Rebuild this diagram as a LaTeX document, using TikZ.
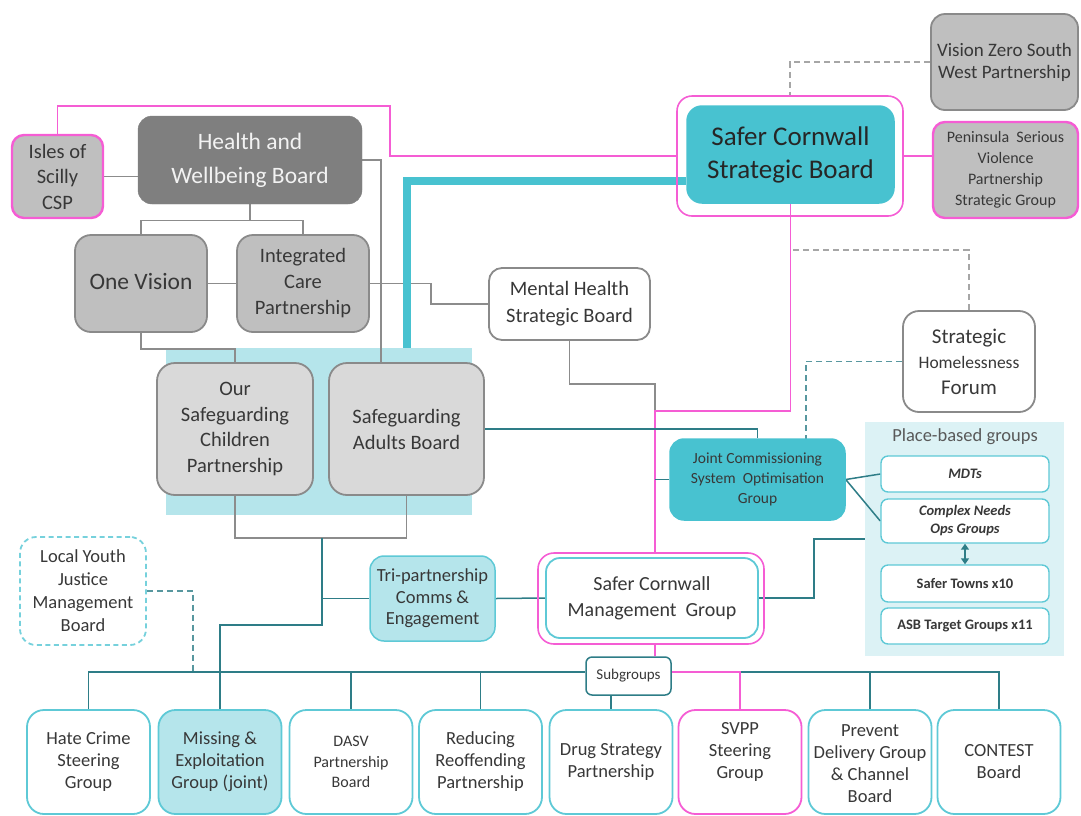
\documentclass[tikz,border=0pt]{standalone}
\usepackage{fontspec}
\setmainfont{Carlito}
\usetikzlibrary{arrows.meta,backgrounds,calc}
\definecolor{pk}{HTML}{F55DD4}
\definecolor{cyf}{HTML}{48C2D0}
\definecolor{lcy}{HTML}{B5E5EB}
\definecolor{panelc}{HTML}{DCF2F5}
\definecolor{tlc}{HTML}{2E7D87}
\definecolor{cyb}{HTML}{5EC9D6}
\definecolor{dgray}{HTML}{7F7F7F}
\definecolor{mgray}{HTML}{BFBFBF}
\definecolor{lgray}{HTML}{D9D9D9}
\definecolor{bgray}{HTML}{8A8A8A}
\definecolor{lgr}{HTML}{8C8C8C}
\definecolor{dgr}{HTML}{A6A6A6}
\definecolor{txt}{HTML}{383838}
\newcommand{\fz}[2]{\fontsize{#1}{#2}\selectfont}
\begin{document}
\begin{tikzpicture}[x=1pt,y=-1pt,
  every node/.style={inner sep=0pt, align=center, text=txt},
  dgbox/.style={fill=dgray, draw=dgray, rounded corners=14pt, text=white!95!black},
  gbox/.style={fill=mgray, draw=bgray, line width=1.8pt, rounded corners=16pt},
  lgbox/.style={fill=lgray, draw=bgray, line width=1.8pt, rounded corners=18pt},
  wbox/.style={fill=white, draw=bgray, line width=1.8pt, rounded corners=13pt},
  pkbox/.style={draw=pk, line width=1.6pt, rounded corners=15pt},
  pkgbox/.style={fill=mgray, draw=pk, line width=2.4pt, rounded corners=12pt},
  cbox/.style={fill=white, draw=cyb, line width=1.8pt, rounded corners=17pt},
  cfbox/.style={fill=cyf, draw=cyf, line width=1.5pt, rounded corners=15pt},
  lcbox/.style={fill=lcy, draw=cyb, line width=1.5pt, rounded corners=14pt},
  pbox/.style={fill=white, draw=cyb, line width=1.4pt, rounded corners=7pt},
  gl/.style={draw=lgr, line width=1.4pt},
  tl/.style={draw=tlc, line width=1.5pt},
  pkl/.style={draw=pk, line width=1.5pt},
  gdash/.style={draw=dgr, line width=1.8pt, dash pattern=on 6pt off 4pt},
  tdash/.style={draw=tlc!80!white, line width=1.8pt, dash pattern=on 6pt off 4pt},
  thickc/.style={draw=cyf, line width=8pt},
  bot/.style={cbox, minimum width=123, minimum height=104, font=\fz{18.5}{22}}
]
\useasboundingbox (0,0) rectangle (1081,815);

% ---------- nodes ----------
\node[pkgbox, minimum width=91, minimum height=83, font=\fz{20.5}{25.5}] (Isles) at (57.5,176.5) {Isles of\\Scilly\\CSP};
\node[dgbox, minimum width=224, minimum height=88, font=\fz{23.5}{34}] (HWB) at (250,160) {Health and\\Wellbeing Board};
\node[gbox, minimum width=132, minimum height=97, font=\fz{23.5}{28}] (OneV) at (141,283.5) {\raisebox{4pt}{One Vision}};
\node[gbox, minimum width=132, minimum height=97, font=\fz{20.5}{26}] (ICP) at (303,283.5) {Integrated\\Care\\Partnership};
\node[wbox, minimum width=161, minimum height=72, font=\fz{20.5}{27}] (MHSB) at (569.5,304) {Mental Health\\Strategic Board};
\node[gbox, minimum width=147, minimum height=96, rounded corners=14pt, font=\fz{19}{22}] (VZ) at (1004.5,62) {Vision Zero South\\West Partnership};
\node[pkbox, minimum width=226, minimum height=120] (SCSBout) at (790,156) {};
\node[cfbox, minimum width=207, minimum height=97, text=black!85, font=\fz{27}{33}] (SCSBin) at (790.5,154.5) {Safer Cornwall\\Strategic Board};
\node[pkgbox, minimum width=145, minimum height=96, font=\fz{16}{21}] (Pen) at (1005.5,170) {Peninsula\ \ Serious\\Violence\\Partnership\\Strategic Group};
\node[wbox, minimum width=132, minimum height=101, rounded corners=16pt, font=\fz{21}{25.5}] (SHF) at (969,361.5) {Strategic\\{\fontsize{17.5}{25.5}\selectfont Homelessness}\\Forum};
\node[lgbox, minimum width=156, minimum height=132, font=\fz{20.5}{25.5}] (OSCP) at (235,429) {Our\\Safeguarding\\Children\\Partnership};
\node[lgbox, minimum width=155, minimum height=132, font=\fz{20.5}{26}] (SAB) at (406.5,429) {Safeguarding\\Adults Board};
\node[cfbox, minimum width=175, minimum height=81, rounded corners=14pt, font=\fz{15.5}{20}] (JCSOG) at (757.5,479.5) {Joint Commissioning\\System\ \ Optimisation\\Group};
\node[pbox, minimum width=168, minimum height=36, font=\bfseries\itshape\fz{14.5}{18}] (MDTs) at (965,474) {MDTs};
\node[pbox, minimum width=168, minimum height=44, font=\bfseries\itshape\fz{14.5}{18}] (Complex) at (965,521) {Complex Needs\\Ops Groups};
\node[pbox, minimum width=168, minimum height=37, font=\bfseries\fz{14.5}{18}] (Towns) at (965,583.5) {Safer Towns x10};
\node[pbox, minimum width=168, minimum height=36, font=\bfseries\fz{14.5}{18}] (ASB) at (965,626) {ASB Target Groups x11};
\node[draw=cyb!85!white, line width=1.8pt, dash pattern=on 5pt off 3.5pt, rounded corners=16pt, minimum width=126, minimum height=108, font=\fz{18.5}{23}] (LYJ) at (83,591) {Local Youth\\Justice\\Management\\Board};
\node[lcbox, minimum width=125, minimum height=85, font=\fz{18.5}{21.5}] (Tri) at (432.5,598.5) {Tri-partnership\\Comms \&\\Engagement};
\node[pkbox, minimum width=226, minimum height=91, rounded corners=16pt] (SCMGout) at (651,598.5) {};
\node[cbox, minimum width=212, minimum height=80, rounded corners=14pt, font=\fz{20}{26}] (SCMGin) at (652,598) {Safer Cornwall\\Management\ \ Group};
\node[fill=white, draw=tlc, line width=1.5pt, rounded corners=6pt, minimum width=85, minimum height=38, font=\fz{15}{18}] (Sub) at (628.5,676) {Subgroups};

\node[bot] (Hate) at (88.5,762) {Hate Crime\\Steering\\Group};
\node[bot, fill=lcy] (Miss) at (220,762) {Missing \&\\Exploitation\\Group (joint)};
\node[bot, font=\fz{16}{20.5}] (DASV) at (351,762) {DASV\\Partnership\\Board};
\node[bot] (Red) at (480.5,762) {Reducing\\Reoffending\\Partnership};
\node[bot] (Drug) at (611,762) {Drug Strategy\\Partnership};
\node[bot, draw=pk] (SVPP) at (740,762) {SVPP\\Steering\\Group\\[2pt]};
\node[bot] (Prev) at (870,762) {\\[-6pt]Prevent\\Delivery Group\\\& Channel\\Board};
\node[bot] (CON) at (999,762) {CONTEST\\Board};

% ---------- helper coordinates ----------
\coordinate (pk1) at (390,106);
\coordinate (hsab) at (381,363);
\coordinate (cbgtop) at (407,348);
\coordinate (pkm) at (655,411);
\coordinate (shfj) at (793,250);
\coordinate (jn2) at (806,439);
\coordinate (j1) at (322,538);
\coordinate (j2) at (220,625);
\coordinate (lyjb) at (193,672);
\coordinate (bus) at (0,672);

% ---------- background and connectors ----------
\begin{scope}[on background layer]
\fill[lcy] (166,348) rectangle (472,515);
\node[fill=panelc, minimum width=199, minimum height=234] (PB) at (964.5,539) {};
\node[font=\fz{18.5}{20}, text=black!65] (PBt) at (965,437) {Place-based groups};

% grey (health) connectors
\draw[gl] (Isles.east) -- (Isles.east -| HWB.west);
\draw[gl] (HWB.south) -- ++(0,16) -| (OneV.north);
\draw[gl] (HWB.south) -- ++(0,16) -| (ICP.north);
\draw[gl] (OneV.east) -- (ICP.west);
\draw[gl] (HWB.east) -| (hsab);
\draw[gl] (ICP.east) -- ++(61,0) |- (MHSB.west);
\draw[gl] (OneV.south) -- ++(0,16) -| (OSCP.north);
\draw[gl] (MHSB.south) -- ++(0,43) -| (pkm);
\draw[gl] (OSCP.south) |- (j1) -| (SAB.south);

% thick cyan link
\draw[thickc] ([yshift=-26pt]SCSBin.west) -| (cbgtop);

% pink links
\draw[pkl] (Isles.north) |- (pk1) |- (SCSBout.west);
\draw[pkl] (SCSBout.east) -- (SCSBout.east -| Pen.west);
\draw[pkl] (SCSBin.south) |- (pkm) -- (pkm |- SCMGout.north);
\draw[pkl] (pkm |- SCMGout.south) -- (pkm |- Sub.north);

% dashed links
\draw[gdash] (VZ.west) -| (SCSBout.north);
\draw[gdash] (SHF.north) |- (shfj);
\draw[tdash] (SHF.west) -| (jn2);
\draw[tdash] (LYJ.east) -| (lyjb);

% teal links
\draw[tl] (SAB.east) -| (JCSOG.north);
\draw[tl] (JCSOG.west) -- (JCSOG.west -| pkm);
\draw[tl] (JCSOG.east) -- (MDTs.west);
\draw[tl] (JCSOG.east) -- (Complex.west);
\draw[tl] (SCMGin.east) -- ++(55,0) |- (PB.west);
\draw[tl] (Tri.east) -- (SCMGin.west);
\draw[tl] (Tri.west) -- (Tri.west -| j1);
\draw[tl] (j1) |- (j2) -- (Miss.north);
\draw[tl] (Hate.north) |- (Sub.west |- bus);
\draw[tl] (CON.north) |- (Sub.east |- bus);
\draw[tl] (DASV.north) -- (DASV.north |- bus);
\draw[tl] (Red.north) -- (Red.north |- bus);
\draw[tl] (Prev.north) -- (Prev.north |- bus);
\draw[tl] (Drug.north) -- (Drug.north |- Sub.south);
\draw[pkl] (SVPP.north) |- (Sub.east |- bus);
\end{scope}

\draw[tl, {Triangle[width=8pt,length=6pt]}-{Triangle[width=8pt,length=6pt]}] (Complex.south) -- (Towns.north);
\end{tikzpicture}
\end{document}
